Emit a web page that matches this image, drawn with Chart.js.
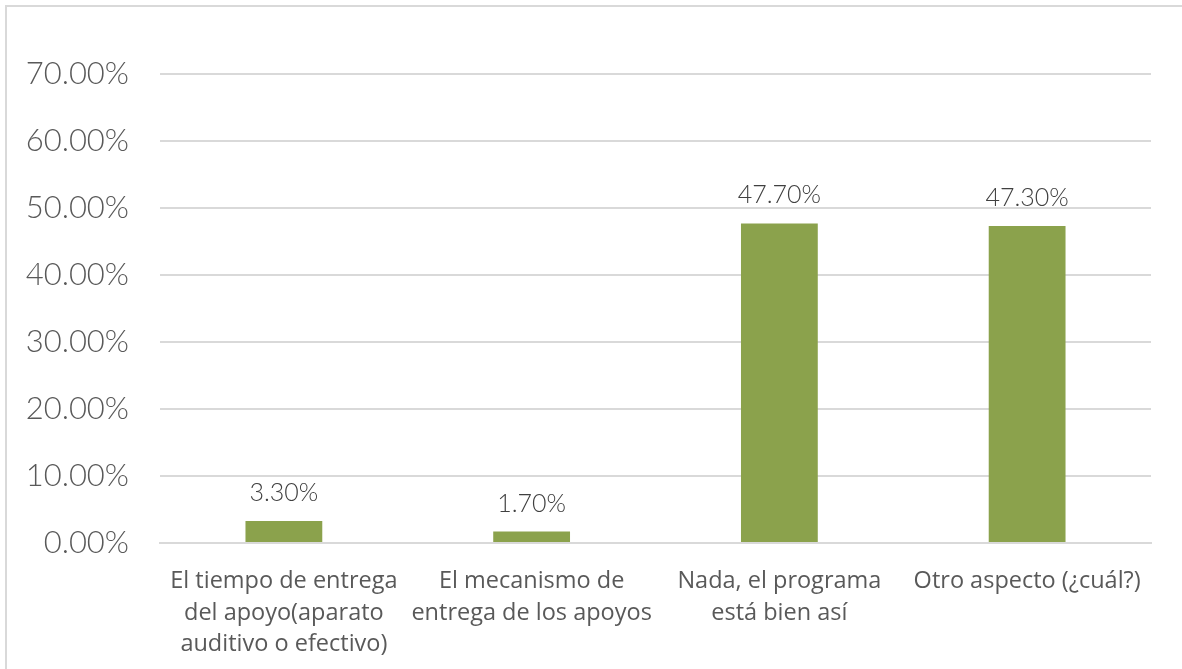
<!DOCTYPE html>
<html>
<head>
<meta charset="utf-8">
<script src="https://cdn.jsdelivr.net/npm/chart.js@4.4.1/dist/chart.umd.min.js"></script>
<style>
html,body{margin:0;padding:0;background:#fff;overflow:hidden;}
#frame{position:absolute;left:5px;top:5px;width:1300px;height:800px;border-top:2px solid #D9D9D9;border-left:2px solid #D9D9D9;box-sizing:border-box;}
#wrap{position:absolute;left:0;top:0;width:1182px;height:669px;}
</style>
</head>
<body>
<div id="frame"></div>
<div id="wrap"><canvas id="c" width="1182" height="669"></canvas></div>
<script>
const categories = [
  ["El tiempo de entrega", "del apoyo(aparato", "auditivo o efectivo)"],
  ["El mecanismo de", "entrega de los apoyos"],
  ["Nada, el programa", "está bien así"],
  "Otro aspecto (¿cuál?)"
];
const values = [3.3, 1.7, 47.7, 47.3];
const yTicks = [0, 10, 20, 30, 40, 50, 60, 70];

const numFont = 'Lato';

const valueLabels = {
  id: 'valueLabels',
  afterDatasetsDraw(chart) {
    const ctx = chart.ctx;
    const meta = chart.getDatasetMeta(0);
    ctx.save();
    ctx.font = '300 25px ' + numFont;
    ctx.fillStyle = '#404040';
    ctx.textAlign = 'center';
    ctx.textBaseline = 'middle';
    meta.data.forEach((bar, i) => {
      ctx.fillText(values[i].toFixed(2) + '%', bar.x, bar.y - 28);
    });
    ctx.restore();
  }
};

new Chart(document.getElementById('c'), {
  type: 'bar',
  data: {
    labels: categories,
    datasets: [{
      data: values,
      backgroundColor: '#8BA24C',
      borderWidth: 0,
      barPercentage: 0.62,
      categoryPercentage: 0.5
    }]
  },
  options: {
    responsive: false,
    animation: false,
    layout: { padding: { left: 0, right: 31, top: 74, bottom: 0 } },
    plugins: { legend: { display: false }, tooltip: { enabled: false } },
    scales: {
      x: {
        grid: { display: false, drawTicks: false },
        border: { display: true, color: '#D9D9D9', width: 2 },
        ticks: {
          color: '#595959',
          font: { family: '"Open Sans"', size: 23.5, lineHeight: 1.34 },
          padding: 23,
          maxRotation: 0,
          autoSkip: false
        },
        afterFit(scale) { scale.height = 669 - 543; }
      },
      y: {
        min: 0, max: 70,
        afterBuildTicks(scale) { scale.ticks = yTicks.map(v => ({ value: v })); },
        grid: { color: '#D9D9D9', lineWidth: 2, drawTicks: false },
        border: { display: false },
        ticks: {
          color: '#595959',
          font: { family: numFont, size: 31, weight: '300' },
          padding: 31,
          callback: v => v.toFixed(2) + '%'
        },
        afterFit(scale) { scale.width = 160; }
      }
    }
  },
  plugins: [valueLabels]
});
</script>
</body>
</html>
